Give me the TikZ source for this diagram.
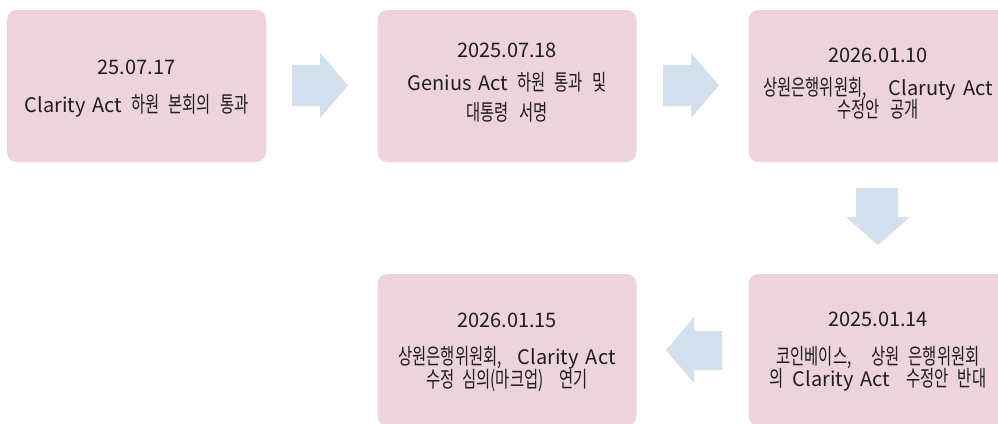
\documentclass[tikz,border=0pt]{standalone}
\usepackage{fontspec}
\setmainfont{Noto Sans CJK KR}
\newfontfamily\hgfont[FakeStretch=0.7]{Noto Sans CJK KR}
\definecolor{boxpink}{HTML}{EDD3DC}
\definecolor{arrowblue}{HTML}{D3DFEC}
\definecolor{txtdark}{HTML}{1E1E1E}
\newcommand{\K}[1]{{\hgfont\fontsize{22}{25}\selectfont #1}}
\newcommand{\ls}{\hspace{7pt}}
\newcommand{\ks}{\hspace{9pt}}
\begin{document}
\begin{tikzpicture}[x=1pt,y=-1pt,
  box/.style={minimum width=259pt,minimum height=152pt,inner sep=0pt,rounded corners=10pt,fill=boxpink,draw=none},
  txt/.style={font=\fontsize{20}{24}\selectfont,text=txtdark,inner sep=0pt,anchor=center},
  blockarrow/.style={fill=arrowblue,draw=none}]
\useasboundingbox (0,0) rectangle (998,423);
\clip (0,0) rectangle (998,423);
% boxes
\node[box] (b1) at (136.5,86) {};
\node[box] (b2) at (507,86) {};
\node[box] (b3) at (878,86) {};
\node[box] (b4) at (507,350) {};
\node[box] (b5) at (878,350) {};
% box 1
\node[txt] (t1a) at (136.5,67.5) {25.07.17};
\node[txt] (t1b) at (136.5,106) {Clarity\ls Act\ks\K{하원}\ks\K{본회의}\ks\K{통과}};
% box 2
\node[txt] (t2a) at (507,50) {2025.07.18};
\node[txt] (t2b) at (507,82) {Genius\ls Act\ks\K{하원}\ks\K{통과}\ks\K{및}};
\node[txt] (t2c) at (507,112.5) {\K{대통령}\hspace{10pt}\K{서명}};
% box 3
\node[txt] (t3a) at (878,55) {2026.01.10};
\node[txt] (t3b) at (878,88.5) {\K{상원은행위원회,}\hspace{22pt}Claruty\ls Act};
\node[txt] (t3c) at (878,109.5) {\K{수정안}\hspace{10pt}\K{공개}};
% box 5
\node[txt] (t5a) at (878,319.5) {2025.01.14};
\node[txt] (t5b) at (878,357.5) {\K{코인베이스,}\hspace{20pt}\K{상원}\ks\K{은행위원회}};
\node[txt] (t5c) at (878,380) {\K{의}\ks Clarity\ls Act\hspace{16pt}\K{수정안}\ks\K{반대}};
% box 4
\node[txt] (t4a) at (507,320.5) {2026.01.15};
\node[txt] (t4b) at (507,357.5) {\K{상원은행위원회,}\hspace{16pt}Clarity\ls Act};
\node[txt] (t4c) at (507,380.5) {\K{수정}\hspace{8pt}\K{심의(마크업)}\hspace{16pt}\K{연기}};
% block arrows
\fill[blockarrow] (292,65) -- (320,65) -- (320,53) -- (348,85.5) -- (320,118) -- (320,106) -- (292,106) -- cycle;
\fill[blockarrow] (663,65) -- (691,65) -- (691,53) -- (719,85.5) -- (691,118) -- (691,106) -- (663,106) -- cycle;
\fill[blockarrow] (856,188) -- (898,188) -- (898,217) -- (910,217) -- (878,245) -- (846,217) -- (856,217) -- cycle;
\fill[blockarrow] (722,331) -- (694,331) -- (694,317) -- (666,350) -- (694,383) -- (694,370) -- (722,370) -- cycle;
\end{tikzpicture}
\end{document}
